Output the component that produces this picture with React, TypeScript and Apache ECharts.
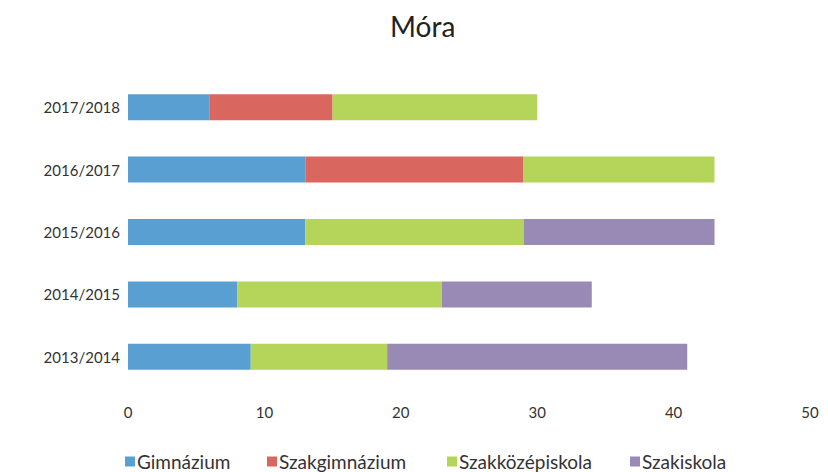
import React, { useEffect, useRef } from "react";
import * as echarts from "echarts";

const categories = ["2013/2014", "2014/2015", "2015/2016", "2016/2017", "2017/2018"];
const gimnazium = [9, 8, 13, 13, 6];
const szakgimnazium = [0, 0, 0, 16, 9];
const szakkozepiskola = [10, 15, 16, 14, 15];
const szakiskola = [22, 11, 14, 0, 0];
const seriesNames = ["Gimnázium", "Szakgimnázium", "Szakközépiskola", "Szakiskola"];
const colors = ["#5a9fd2", "#d9675f", "#b4d55a", "#998ab5"];
const xTicks = [0, 10, 20, 30, 40, 50];

const FONT = "Lato, 'Noto Sans', sans-serif";
const legendLefts = [125, 267, 447, 630];

export default function App() {
  const ref = useRef<HTMLDivElement>(null);
  useEffect(() => {
    if (!ref.current) return;
    const chart = echarts.init(ref.current, undefined, { renderer: "svg" });
    const data = [gimnazium, szakgimnazium, szakkozepiskola, szakiskola];
    chart.setOption({
      animation: false,
      textStyle: { fontFamily: FONT },
      title: {
        text: "Móra",
        left: 390,
        top: 12,
        padding: 0,
        textStyle: { fontSize: 28, lineHeight: 28, fontWeight: "normal", color: "#222", fontFamily: FONT },
      },
      legend: seriesNames.map((name, i) => ({
        top: 452,
        left: legendLefts[i],
        padding: 0,
        itemWidth: 10,
        itemHeight: 10,
        icon: "rect",
        textStyle: { fontSize: 19, lineHeight: 19, color: "#333", fontFamily: FONT, padding: [0, 0, 0, -3] },
        data: [name],
      })),
      grid: { left: 128, right: 18, top: 76, bottom: 84 },
      xAxis: {
        type: "value",
        min: xTicks[0],
        max: xTicks[xTicks.length - 1],
        interval: 10,
        axisLine: { show: false },
        axisTick: { show: false },
        splitLine: { show: false },
        axisLabel: { fontSize: 15, color: "#333", margin: 16, fontFamily: FONT },
      },
      yAxis: {
        type: "category",
        data: categories,
        axisLine: { show: false },
        axisTick: { show: false },
        axisLabel: { fontSize: 15, color: "#333", margin: 8, fontFamily: FONT },
      },
      series: seriesNames.map((name, i) => ({
        name,
        type: "bar",
        stack: "total",
        barWidth: 26,
        itemStyle: { color: colors[i] },
        data: data[i],
      })),
    });
    return () => chart.dispose();
  }, []);
  return (
    <div
      ref={ref}
      style={{ position: "absolute", left: 0, top: 0, width: 828, height: 472 }}
    />
  );
}
